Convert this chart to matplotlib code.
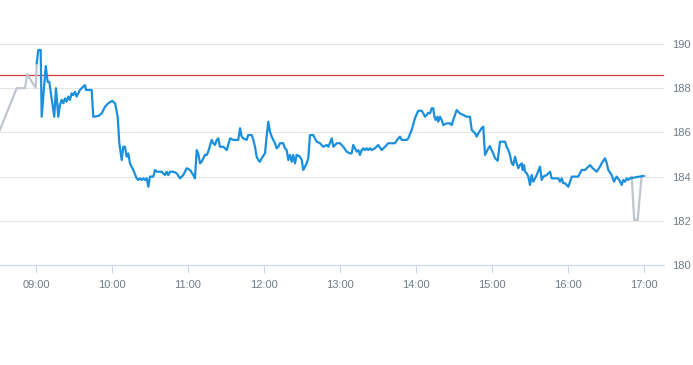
import matplotlib
matplotlib.use("Agg")
import matplotlib.pyplot as plt
import numpy as np

# minutes after 09:00, price
pre_t = [-30, -15.2, -8.7, -6.9, -0.2, 0.6]
pre_v = [185.9, 188.0, 188.0, 188.63, 188.02, 189.13]

day_t = [0.6, 1.8, 3.7, 4.5, 7.7, 9.2, 10.5, 11.8, 14.4, 15.8, 17.6, 18.9, 20.3, 21.6, 22.9,
         24.2, 25.5, 26.8, 28.2, 29.4, 30.8, 32.1, 33.4, 34.7, 36.1, 37.3, 38.7, 39.5, 41.3,
         44.0, 45.2, 49.2, 51.9, 54.5, 57.1, 60.2, 62.4, 64.5, 65.8, 67.7, 68.9, 70.3, 71.6,
         72.9, 74.2, 76.8, 79.5, 80.8, 82.1, 83.4, 84.7, 86.1, 87.4, 88.7, 90.0, 92.6, 94.0,
         95.3, 96.6, 99.2, 101.8, 103.2, 104.4, 105.8, 108.4, 111.1, 113.7, 116.3, 119.0,
         121.6, 124.2, 125.5, 126.9, 128.1, 129.5, 130.8, 133.4, 134.8, 136.0, 138.7, 140.0,
         141.3, 142.7, 143.9, 145.3, 147.9, 150.6, 153.2, 155.8, 159.7, 161.1, 162.4, 163.7,
         166.3, 167.6, 170.3, 171.6, 172.9, 174.2, 175.5, 176.8, 178.2, 180.8, 182.1, 183.4,
         184.7, 186.1, 187.3, 188.7, 190.0, 191.3, 192.6, 195.2, 196.6, 197.9, 199.2, 200.5,
         201.9, 203.1, 204.5, 205.8, 208.4, 209.8, 211.0, 212.4, 213.7, 215.0, 216.3, 218.9,
         221.6, 224.2, 226.8, 229.5, 230.8, 233.5, 234.8, 237.4, 240.0, 242.6, 245.3, 247.9,
         249.2, 250.5, 251.8, 253.2, 254.5, 255.8, 257.1, 258.4, 259.7, 261.1, 262.3, 263.7,
         265.0, 267.6, 270.2, 272.9, 275.5, 278.1, 283.4, 286.0, 287.4, 288.7, 292.7, 293.9,
         296.6, 299.2, 301.8, 304.5, 305.8, 307.1, 308.5, 309.7, 311.1, 312.4, 313.7, 314.5,
         315.6, 316.8, 317.6, 318.9, 320.3, 321.6, 324.2, 326.8, 328.2, 329.4, 330.8, 332.1,
         334.7, 337.3, 340.0, 342.6, 344.0, 346.6, 347.9, 349.2, 351.8, 353.1, 354.5, 355.8,
         357.1, 358.4, 359.7, 361.0, 362.4, 364.5, 366.3, 370.3, 371.6, 372.9, 374.2, 375.6,
         376.8, 378.2, 379.5, 380.8, 382.1, 383.5, 384.2, 385.3, 386.1, 387.4, 388.7, 390.0,
         391.3, 392.6, 394.0, 395.3, 397.9, 399.3, 400.5, 403.2, 405.8, 407.2, 412.4, 413.7,
         415.1, 416.3, 417.6, 420.3, 423.0, 428.1, 430.8, 433.4, 434.8, 437.4, 439.5, 442.7,
         445.3, 446.6, 449.2, 450.6, 451.8, 454.5, 456.3, 458.4, 460.5, 462.4, 463.6, 465.0,
         466.3, 467.6, 468.9, 479.4]
day_v = [189.13, 189.73, 189.73, 186.71, 189.0, 188.29, 188.29, 187.77, 186.71, 188.0, 186.71,
         187.24, 187.47, 187.32, 187.54, 187.39, 187.62, 187.47, 187.77, 187.69, 187.84, 187.62,
         187.77, 187.92, 188.0, 188.07, 188.14, 187.92, 187.92, 187.92, 186.71, 186.74, 186.86,
         187.16, 187.32, 187.43, 187.32, 186.71, 185.51, 184.75, 185.35, 185.35, 184.9, 185.05,
         184.6, 184.3, 183.92, 183.85, 183.92, 183.85, 183.92, 183.85, 183.92, 183.54, 184.0,
         184.0, 184.3, 184.22, 184.22, 184.22, 184.07, 184.22, 184.07, 184.22, 184.22, 184.15,
         183.92, 184.07, 184.38, 184.3, 184.07, 183.92, 185.2, 185.05, 184.6, 184.67, 184.98,
         184.98, 185.13, 185.66, 185.51, 185.43, 185.66, 185.73, 185.35, 185.35, 185.2, 185.73,
         185.66, 185.66, 186.19, 185.81, 185.73, 185.66, 185.88, 185.88, 185.66, 185.35, 184.9,
         184.75, 184.67, 184.83, 185.05, 185.81, 186.48, 186.03, 185.81, 185.66, 185.51, 185.28,
         185.35, 185.51, 185.51, 185.28, 185.2, 184.75, 184.98, 184.67, 184.98, 184.6, 184.98,
         184.9, 184.75, 184.3, 184.45, 184.6, 184.83, 185.88, 185.88, 185.58, 185.51, 185.35,
         185.43, 185.35, 185.73, 185.35, 185.51, 185.51, 185.35, 185.13, 185.05, 185.05, 185.43,
         185.28, 185.13, 185.2, 184.98, 185.2, 185.28, 185.2, 185.28, 185.2, 185.28, 185.2,
         185.28, 185.43, 185.2, 185.35, 185.51, 185.51, 185.73, 185.81, 185.66, 185.66, 185.73,
         186.11, 186.64, 186.98, 186.98, 186.86, 186.71, 186.79, 186.89, 186.86, 187.09, 187.09,
         186.71, 186.56, 186.71, 186.48, 186.71, 186.56, 186.33, 186.41, 186.41, 186.33, 186.56,
         186.79, 187.01, 186.86, 186.79, 186.71, 186.71, 186.11, 185.96, 185.81, 185.96, 186.19,
         186.26, 184.98, 185.13, 185.28, 185.38, 185.2, 185.05, 184.83, 184.72, 185.58, 185.58,
         185.35, 185.2, 184.98, 184.6, 184.52, 184.9, 184.6, 184.38, 184.52, 184.6, 184.3,
         184.52, 184.22, 184.15, 184.0, 183.62, 184.07, 183.77, 183.92, 184.07, 184.45, 183.85,
         184.0, 184.07, 184.22, 183.92, 183.92, 183.77, 183.92, 183.7, 183.7, 183.54, 184.0,
         184.0, 184.3, 184.3, 184.38, 184.52, 184.38, 184.22, 184.45, 184.6, 184.83, 184.6,
         184.3, 184.07, 183.77, 184.0, 183.85, 183.62, 183.85, 183.77, 183.92, 183.85, 183.92,
         184.03]

post_t = [468.9, 470.3, 472.3, 475.0, 478.1, 480.7]
post_v = [183.92, 184.0, 182.04, 182.04, 184.0, 184.03]

prev_close = 188.6
tick_min = [0, 60, 120, 180, 240, 300, 360, 420, 480]
tick_labels = ["09:00", "10:00", "11:00", "12:00", "13:00", "14:00", "15:00", "16:00", "17:00"]
y_ticks = [180, 182, 184, 186, 188, 190]

plt.rcParams['font.family'] = ['Liberation Sans', 'DejaVu Sans']
fig = plt.figure(figsize=(6.93, 3.65), dpi=100)
ax = fig.add_axes([0, 100 / 365, 664 / 693, 221 / 365])

grey = '#c0c6cd'
blue = '#1a8fdd'
ax.plot(pre_t + day_t[:1], pre_v + day_v[:1], color=grey, lw=1.6, zorder=2)
ax.plot(post_t, post_v, color=grey, lw=1.6, zorder=2)
ax.plot(day_t, day_v, color=blue, lw=1.6, zorder=3)
ax.axhline(prev_close, color='#d93c3c', lw=0.9, zorder=1)

ax.set_xlim(-28.4, 495.8)
ax.set_ylim(180, 190)
ax.set_yticks(y_ticks)
ax.set_xticks(tick_min)
ax.set_xticklabels(tick_labels)
ax.yaxis.tick_right()
ax.grid(axis='y', color='#e6e6e6', lw=0.8)
ax.set_axisbelow(True)
for s in ['top', 'left', 'right']:
    ax.spines[s].set_visible(False)
ax.spines['bottom'].set_color('#ccd6eb')
ax.tick_params(axis='x', colors='#ccd6eb', labelcolor='#707b87', length=6, labelsize=8, pad=5)
ax.tick_params(axis='y', length=0, labelcolor='#707b87', labelsize=8, pad=6)

fig.savefig("out.png", dpi=100)
